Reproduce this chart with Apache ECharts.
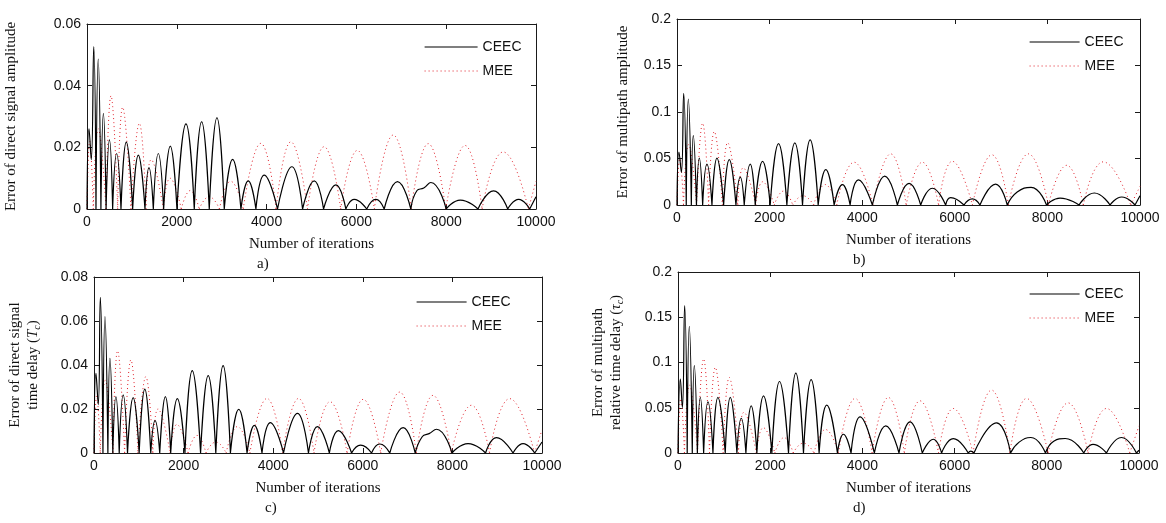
<!DOCTYPE html>
<html>
<head>
<meta charset="utf-8">
<script src="https://cdn.jsdelivr.net/npm/echarts@6/dist/echarts.min.js"></script>
<style>html,body{margin:0;padding:0;background:#fff}#c{width:1166px;height:523px}</style>
</head>
<body>
<div id="c"></div>
<script>
// x ticks
const xTicks = [0, 2000, 4000, 6000, 8000, 10000];
const seriesNames = ['CEEC', 'MEE'];
const yTitles = [
  'Error of direct signal amplitude',
  'Error of multipath amplitude',
  'Error of direct signal\ntime delay ({it|T}{sub|c})',
  'Error of multipath\nrelative time delay ({it|\u03c4}{sub|c})'
];
const subLabels = ['a)', 'b)', 'c)', 'd)'];
const yMax = [0.06, 0.2, 0.08, 0.2];
const yStep = [0.02, 0.05, 0.02, 0.05];

// key points (zeros and peaks): [iteration, error]
const aCEEC = [[0,0],[45,0.026],[95,0.016],[150,0.0527],[200,0],[250,0.0486],[310,0],[365,0.031],[425,0],[500,0.0224],[571,0],[660,0.018],[757,0],[875,0.0217],[1017,0],[1143,0.0175],[1291,0],[1380,0.0134],[1477,0],[1588,0.018],[1707,0],[1855,0.0204],[2003,0],[2204,0.0276],[2389,0],[2553,0.0283],[2723,0],[2894,0.0296],[3057,0],[3243,0.0161],[3428,0],[3591,0.0091],[3762,0],[3947,0.011],[4244,0],[4563,0.0137],[4801,0],[5060,0.0091],[5268,0],[5543,0.0078],[5765,0],[5951,0.0031],[6230,0],[6433,0.0031],[6619,0],[6915,0.0089],[7212,0],[7350,0.006],[7500,0.0068],[7658,0.0086],[8000,0],[8314,0.0029],[8708,0],[9056,0.0059],[9370,0],[9613,0.0031],[9860,0],[10000,0.004]];
const aMEE = [[0,0],[60,0.022],[140,0],[250,0.026],[423,0],[534,0.0367],[683,0],[794,0.033],[980,0],[1165,0.0278],[1313,0],[1430,0.016],[1700,0],[1850,0.010],[2100,0],[2300,0.006],[2500,0],[2720,0.004],[2950,0],[3200,0.009],[3480,0],[3870,0.0213],[4210,0],[4540,0.0218],[4910,0],[5280,0.0202],[5650,0],[6020,0.019],[6400,0],[6820,0.024],[7220,0],[7600,0.0212],[7990,0],[8420,0.0206],[8800,0],[9270,0.0185],[9830,0],[10000,0.009]];

const bCEEC = [[0,0],[43,0.057],[95,0.035],[144,0.12],[200,0],[245,0.114],[310,0],[352,0.0746],[420,0],[482,0.0505],[554,0],[647,0.044],[755,0],[863,0.0505],[1007,0],[1129,0.0487],[1273,0],[1366,0.030],[1452,0],[1582,0.044],[1690,0],[1848,0.047],[2013,0],[2193,0.066],[2373,0],[2545,0.0667],[2711,0],[2876,0.070],[3049,0],[3214,0.038],[3394,0],[3573,0.022],[3739,0],[3919,0.027],[4220,0],[4487,0.031],[4760,0],[5012,0.0233],[5263,0],[5515,0.018],[5802,0],[5910,0.008],[6198,0],[6378,0.0065],[6543,0],[6881,0.0224],[7133,0],[7348,0.014],[7647,0.019],[7981,0],[8273,0.0075],[8683,0],[9013,0.0129],[9353,0],[9605,0.0086],[9892,0],[10000,0.01]];
const bMEE = [[0,0],[60,0.05],[140,0],[250,0.065],[423,0],[553,0.088],[683,0],[805,0.079],[980,0],[1093,0.067],[1313,0],[1430,0.04],[1700,0],[1850,0.025],[2100,0],[2300,0.015],[2500,0],[2720,0.01],[2950,0],[3200,0.022],[3450,0],[3825,0.046],[4230,0],[4616,0.055],[4950,0],[5299,0.046],[5650,0],[5946,0.047],[6380,0],[6800,0.054],[7157,0],[7589,0.055],[8020,0],[8417,0.0427],[8776,0],[9207,0.0464],[9800,0],[10000,0.02]];

const cCEEC = [[0,0],[44,0.0362],[95,0.022],[141,0.0708],[200,0],[245,0.062],[310,0],[356,0.043],[420,0],[489,0.0256],[563,0],[652,0.0264],[748,0],[874,0.0252],[1008,0],[1134,0.029],[1267,0],[1363,0.0147],[1467,0],[1593,0.0256],[1712,0],[1860,0.0247],[2030,0],[2193,0.0374],[2379,0],[2549,0.0352],[2719,0],[2882,0.0397],[3045,0],[3231,0.0198],[3416,0],[3579,0.0126],[3750,0],[3935,0.0138],[4231,0],[4542,0.018],[4787,0],[4987,0.012],[5254,0],[5454,0.0102],[5750,0],[5950,0.0036],[6195,0],[6380,0.0041],[6602,0],[6900,0.0115],[7170,0],[7330,0.0075],[7480,0.0088],[7644,0.0108],[7990,0],[8349,0.0043],[8740,0],[8983,0.007],[9353,0],[9577,0.0043],[9837,0],[10000,0.005]];
const cMEE = [[0,0],[60,0.026],[140,0],[250,0.033],[423,0],[526,0.0465],[683,0],[823,0.0423],[980,0],[1156,0.0347],[1313,0],[1430,0.02],[1700,0],[1850,0.013],[2100,0],[2300,0.008],[2500,0],[2720,0.005],[2950,0],[3200,0.012],[3480,0],[3861,0.0248],[4210,0],[4565,0.0248],[4910,0],[5269,0.0233],[5650,0],[6010,0.0244],[6400,0],[6823,0.0277],[7194,0],[7567,0.0262],[7974,0],[8424,0.0217],[8828,0],[9279,0.0247],[9833,0],[10000,0.0105]];

const dCEEC = [[0,0],[51,0.0817],[95,0.05],[144,0.163],[200,0],[245,0.14],[310,0],[354,0.0965],[420,0],[484,0.0614],[556,0],[650,0.0566],[758,0],[866,0.0614],[1025,0],[1134,0.0614],[1278,0],[1372,0.0384],[1473,0],[1588,0.0521],[1711,0],[1855,0.0632],[2036,0],[2202,0.079],[2397,0],[2556,0.0883],[2722,0],[2888,0.081],[3061,0],[3227,0.0529],[3458,0],[3588,0.0207],[3754,0],[3949,0.0399],[4260,0],[4505,0.030],[4794,0],[5032,0.0344],[5299,0],[5538,0.0152],[5718,0],[5971,0.0159],[6296,0],[6350,0.002],[6420,0],[6911,0.0333],[7214,0],[7400,0.012],[7654,0.0171],[7972,0],[8150,0.013],[8400,0.016],[8802,0],[9003,0.0096],[9294,0],[9619,0.0171],[9944,0],[10000,0.003]];
const dMEE = [[0,0],[60,0.06],[140,0],[250,0.075],[423,0],[556,0.104],[683,0],[809,0.0946],[980,0],[1112,0.0835],[1313,0],[1430,0.045],[1700,0],[1850,0.028],[2100,0],[2300,0.017],[2500,0],[2720,0.011],[2950,0],[3200,0.026],[3480,0],[3841,0.0603],[4210,0],[4563,0.0614],[4910,0],[5249,0.0577],[5650,0],[5971,0.0492],[6400,0],[6802,0.0695],[7200,0],[7561,0.0603],[8029,0],[8462,0.0554],[8896,0],[9294,0.0492],[9799,0],[10000,0.03]];

const panels = [[aCEEC, aMEE], [bCEEC, bMEE], [cCEEC, cMEE], [dCEEC, dMEE]];

// layout
const grids = [
  {left: 87, top: 24, width: 449, height: 185},
  {left: 677, top: 19, width: 463, height: 186},
  {left: 94, top: 277, width: 448, height: 176},
  {left: 678, top: 272, width: 461, height: 181}
];
const nameGaps = [67, 45, 52, 53];
const legendPos = [
  {left: 424, top: 40, w: 53},
  {left: 1029, top: 35, w: 50},
  {left: 416, top: 295, w: 50},
  {left: 1029, top: 287, w: 50}
];
const subPos = [[264, 266], [860, 262], [272, 510], [860, 510]];

const CEEC_COLOR = '#000';
const MEE_COLOR = '#e0202a';
const ceecLine = {color: CEEC_COLOR, width: 1.2, type: 'solid'};
const meeLine = {color: MEE_COLOR, width: 1, type: [1, 3]};

// split each arch into its own segment so the zeros stay sharp
function arches(pts) {
  const out = [];
  pts.forEach((p, i) => {
    out.push(p);
    if (p[1] === 0 && i > 0 && i < pts.length - 1) {
      out.push([p[0], null]);
      out.push(p);
    }
  });
  return out;
}

const SANS = 'Liberation Sans, Arial, sans-serif';
const SERIF = 'Liberation Serif, Times New Roman, serif';
const axisCol = '#1a1a1a';

const xAxis = [], yAxis = [], series = [], legend = [], graphic = [];
grids.forEach((g, i) => {
  const common = {
    type: 'value', gridIndex: i, min: 0,
    axisLine: {show: true, onZero: false, lineStyle: {color: axisCol, width: 1}},
    axisTick: {show: true, inside: true, length: 5, lineStyle: {color: axisCol}},
    splitLine: {show: false}
  };
  xAxis.push(Object.assign({}, common, {
    position: 'bottom', max: xTicks[xTicks.length - 1], interval: xTicks[1] - xTicks[0],
    axisLabel: {color: '#111', fontFamily: SANS, fontSize: 14, margin: 6, formatter: v => String(v)},
    name: 'Number of iterations', nameLocation: 'middle', nameGap: 28,
    nameTextStyle: {color: '#111', fontFamily: SERIF, fontSize: 15}
  }));
  xAxis.push(Object.assign({}, common, {
    position: 'top', max: xTicks[xTicks.length - 1], interval: xTicks[1] - xTicks[0],
    axisLabel: {show: false}
  }));
  yAxis.push(Object.assign({}, common, {
    position: 'left', max: yMax[i], interval: yStep[i],
    axisLabel: {color: '#111', fontFamily: SANS, fontSize: 14, margin: 6, formatter: v => String(+v.toFixed(4))},
    name: yTitles[i], nameLocation: 'middle', nameGap: nameGaps[i],
    nameTextStyle: {
      color: '#111', fontFamily: SERIF, fontSize: 15, lineHeight: 18,
      rich: {
        it: {fontFamily: SERIF, fontStyle: 'italic', fontSize: 15, color: '#111', lineHeight: 18},
        sub: {fontFamily: SERIF, fontStyle: 'italic', fontSize: 10, color: '#111', lineHeight: 18, verticalAlign: 'bottom', padding: [6, 0, 0, 0]}
      }
    }
  }));
  yAxis.push(Object.assign({}, common, {
    position: 'right', max: yMax[i], interval: yStep[i],
    axisLabel: {show: false}
  }));
  series.push({
    name: seriesNames[0], type: 'line', xAxisIndex: 2 * i, yAxisIndex: 2 * i,
    data: arches(panels[i][0]), smooth: true, symbol: 'none', showSymbol: false, connectNulls: false,
    lineStyle: ceecLine, itemStyle: {color: CEEC_COLOR}, z: 3
  });
  series.push({
    name: seriesNames[1], type: 'line', xAxisIndex: 2 * i, yAxisIndex: 2 * i,
    data: arches(panels[i][1]), smooth: true, symbol: 'none', showSymbol: false, connectNulls: false,
    lineStyle: meeLine, itemStyle: {color: MEE_COLOR}, z: 2
  });
  legend.push({
    data: [
      {name: seriesNames[0], lineStyle: ceecLine, itemStyle: {opacity: 0, borderWidth: 0}},
      {name: seriesNames[1], lineStyle: meeLine, itemStyle: {opacity: 0, borderWidth: 0}}
    ],
    orient: 'vertical', left: legendPos[i].left, top: legendPos[i].top,
    padding: 0, itemWidth: legendPos[i].w, itemHeight: 14, itemGap: 10,
    itemStyle: {opacity: 0, borderWidth: 0},
    textStyle: {color: '#111', fontFamily: SANS, fontSize: 14}, selectedMode: false
  });
  graphic.push({
    type: 'text', left: subPos[i][0] - 7, top: subPos[i][1] - 9,
    style: {text: subLabels[i], font: '15px ' + SERIF, fill: '#111'}
  });
});

const chart = echarts.init(document.getElementById('c'), null, {renderer: 'canvas'});
chart.setOption({
  animation: false,
  backgroundColor: '#fff',
  grid: grids.map(g => Object.assign({containLabel: false}, g)),
  xAxis, yAxis, series, legend, graphic
});
</script>
</body>
</html>
